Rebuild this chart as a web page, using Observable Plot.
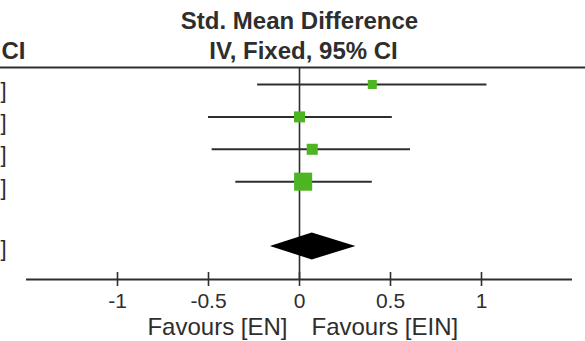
<!DOCTYPE html>
<html><head><meta charset="utf-8">
<script src="https://cdn.jsdelivr.net/npm/d3@7"></script>
<script src="https://cdn.jsdelivr.net/npm/@observablehq/plot@0.6"></script>
<style>html,body{margin:0;padding:0;background:#fff;overflow:hidden}</style>
</head><body><div id="chart"></div>
<script>
// ---- data ----
const rows = [1, 2, 3, 4];
const smd = [0.40, 0.00, 0.07, 0.02];
const ciLow = [-0.23, -0.50, -0.48, -0.35];
const ciHigh = [1.03, 0.51, 0.61, 0.40];
const weight = [12.5, 18.7, 18.7, 50.1];
const pooledRow = [6];
const pooled = [0.07];
const pooledLow = [-0.16];
const pooledHigh = [0.31];
const xTicks = [-1, -0.5, 0, 0.5, 1];
const headerTitle = ["Std. Mean Difference"];
const headerSub = ["IV, Fixed, 95% CI"];
const leftHeader = ["CI"];
const favoursLeft = ["Favours [EN]"];
const favoursRight = ["Favours [EIN]"];
const bracket = "]";

// ---- layout / style ----
const W = 585, H = 341;
const TOP = 0.475, AXIS = 7.02;          // y-domain ends: header rule and x axis
const pxPerUnitY = 212 / (AXIS - TOP);
const diamondHalf = 13.5 / pxPerUnitY;
const GREEN = "#4cb521";
const INK = "#2e2e2e";
const FONT = "'Liberation Sans', Arial, Helvetica, sans-serif";

const studies = rows.map((r, i) => ({row: r, smd: smd[i], lo: ciLow[i], hi: ciHigh[i], w: weight[i]}));
const diamond = [
  {y: pooledRow[0] - diamondHalf, x1: pooled[0], x2: pooled[0]},
  {y: pooledRow[0], x1: pooledLow[0], x2: pooledHigh[0]},
  {y: pooledRow[0] + diamondHalf, x1: pooled[0], x2: pooled[0]}
];

const chart = Plot.plot({
  width: W, height: H,
  marginLeft: 26, marginRight: 13, marginTop: 67, marginBottom: 62,
  style: {fontFamily: FONT, color: INK, background: "#fff", overflow: "visible"},
  x: {domain: [-1.5, 1.5], axis: null},
  y: {domain: [TOP, AXIS], reverse: true, axis: null},
  r: {type: "sqrt", domain: [0, 50.1], range: [0, 10.2]},
  marks: [
    // header rule across full width
    Plot.ruleY([TOP], {stroke: INK, strokeWidth: 2, insetLeft: -26, insetRight: -13}),
    // line of no effect
    Plot.ruleX([0], {stroke: INK, strokeWidth: 1.6}),
    // x axis line
    Plot.ruleY([AXIS], {stroke: INK, strokeWidth: 2}),
    // crossing ticks
    Plot.ruleX(xTicks, {stroke: INK, strokeWidth: 1.6, insetTop: 205, insetBottom: -7}),
    // tick labels
    Plot.axisX({ticks: xTicks, tickSize: 0, tickPadding: 14, tickFormat: d => String(d),
                fontSize: 21, label: null, fill: INK}),
    // confidence intervals
    Plot.ruleY(studies, {y: "row", x1: "lo", x2: "hi", stroke: INK, strokeWidth: 2}),
    // study squares
    Plot.dot(studies, {x: "smd", y: "row", r: "w", symbol: "square", fill: GREEN, stroke: null}),
    // pooled diamond
    Plot.areaX(diamond, {y: "y", x1: "x1", x2: "x2", fill: "#000", curve: "linear"}),
    // header texts
    Plot.text(headerTitle, {x: () => 0, text: d => d, frameAnchor: "top", lineAnchor: "bottom", dy: -39,
      fontSize: 24, fontWeight: "bold", fill: INK}),
    Plot.text(headerSub, {x: () => 0, text: d => d, frameAnchor: "top", lineAnchor: "bottom", dy: -9, dx: 4,
      fontSize: 24, fontWeight: "bold", fill: INK}),
    Plot.text(leftHeader, {text: d => d, frameAnchor: "top-left", textAnchor: "start", lineAnchor: "bottom",
      dy: -9, dx: -25, fontSize: 24, fontWeight: "bold", fill: INK}),
    // cut-off right brackets of the CI column
    Plot.text(rows, {y: d => d, text: () => bracket, frameAnchor: "left", textAnchor: "end",
      lineAnchor: "bottom", dx: -20, dy: 13, fontSize: 22, fill: INK}),
    Plot.text(pooledRow, {y: d => d, text: () => bracket, frameAnchor: "left", textAnchor: "end",
      lineAnchor: "bottom", dx: -20, dy: 10, fontSize: 22, fill: INK}),
    // favours labels
    Plot.text(favoursLeft, {x: () => 0, text: d => d, frameAnchor: "bottom", textAnchor: "end",
      lineAnchor: "bottom", dx: -12, dy: 55, fontSize: 24, fill: INK}),
    Plot.text(favoursRight, {x: () => 0, text: d => d, frameAnchor: "bottom", textAnchor: "start",
      lineAnchor: "bottom", dx: 12, dy: 55, fontSize: 24, fill: INK})
  ]
});
document.getElementById("chart").append(chart);
</script>
</body></html>
